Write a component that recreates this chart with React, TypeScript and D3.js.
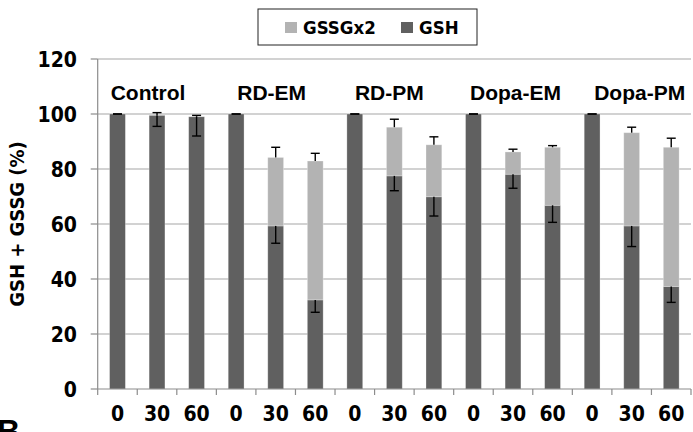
import React, { useEffect, useRef } from "react";
import * as d3 from "d3";

// groups and time points
const groups = ["Control", "RD-EM", "RD-PM", "Dopa-EM", "Dopa-PM"];
const times = ["0", "30", "60"];

// values per bar (group x time), in %
const gsh = [100, 99.5, 99, 100, 59.3, 32.4, 100, 77.5, 69.9, 100, 78.1, 66.8, 100, 59.3, 37.3];
const gssg = [0, 0, 0, 0, 24.9, 50.5, 0, 17.7, 18.9, 0, 8.1, 21.1, 0, 33.9, 50.6];
// GSH error drawn downward, GSSG error drawn upward
const gshErr = [0, 4, 7, 0, 6.3, 4.5, 0, 5.4, 7, 0, 5.1, 6.2, 0, 7.5, 5.8];
const gssgErr = [0, 1, 0.5, 0, 3.7, 2.8, 0, 2.9, 2.9, 0, 1, 0.6, 0, 2, 3.3];

const yTicks = [0, 20, 40, 60, 80, 100, 120];
const seriesNames = ["GSSGx2", "GSH"];

// small horizontal shifts of the group titles (px)
const labelNudge = [-9, -4, -5, 2.5, 8];

const App = () => {
  const ref = useRef(null);

  useEffect(() => {
    const svg = d3.select(ref.current);
    svg.selectAll("*").remove();

    const width = 693;
    const height = 432;
    const left = 97.7;
    const right = 691;
    const top = 59;
    const bottom = 389;

    const condFont = "'DejaVu Sans Condensed', 'DejaVu Sans', sans-serif";
    const narrowFont = "'Liberation Sans Narrow', 'DejaVu Sans Condensed', sans-serif";
    const arial = "'Liberation Sans', Arial, sans-serif";
    const dark = "#606060";
    const light = "#b3b3b3";

    const cats = groups.flatMap((g) => times.map((t) => `${g}|${t}`));

    const x = d3.scaleBand().domain(cats).range([left, right]).padding(0);
    const y = d3.scaleLinear().domain([0, 120]).range([bottom, top]);
    const bw = x.bandwidth() * 0.4;

    svg.attr("width", width).attr("height", height);

    // gridlines
    svg
      .append("g")
      .selectAll("line")
      .data(yTicks.filter((d) => d > 0))
      .join("line")
      .attr("x1", left)
      .attr("x2", right)
      .attr("y1", (d) => y(d))
      .attr("y2", (d) => y(d))
      .attr("stroke", "#a6a6a6")
      .attr("stroke-width", 1.2);

    // y axis
    svg
      .append("line")
      .attr("x1", left)
      .attr("x2", left)
      .attr("y1", top)
      .attr("y2", bottom)
      .attr("stroke", "#8c8c8c")
      .attr("stroke-width", 1.2);
    svg
      .append("g")
      .selectAll("line")
      .data(yTicks)
      .join("line")
      .attr("x1", left - 7)
      .attr("x2", left)
      .attr("y1", (d) => y(d))
      .attr("y2", (d) => y(d))
      .attr("stroke", "#8c8c8c")
      .attr("stroke-width", 1.2);
    svg
      .append("g")
      .selectAll("text")
      .data(yTicks)
      .join("text")
      .attr("x", 77)
      .attr("y", (d) => y(d))
      .attr("dy", "0.36em")
      .attr("text-anchor", "end")
      .style("font-family", narrowFont)
      .style("font-weight", "bold")
      .style("font-size", "21px")
      .text((d) => d);

    // bars
    const barG = svg.append("g");
    cats.forEach((c, i) => {
      const bx = x(c) + (x.bandwidth() - bw) / 2;
      barG
        .append("rect")
        .attr("x", bx)
        .attr("width", bw)
        .attr("y", y(gsh[i]))
        .attr("height", y(0) - y(gsh[i]))
        .attr("fill", dark)
        .attr("stroke", "rgba(255,255,255,0.35)")
        .attr("stroke-width", 0.8);
      if (gssg[i] > 0) {
        barG
          .append("rect")
          .attr("x", bx)
          .attr("width", bw)
          .attr("y", y(gsh[i] + gssg[i]))
          .attr("height", y(gsh[i]) - y(gsh[i] + gssg[i]))
          .attr("fill", light)
          .attr("stroke", "rgba(255,255,255,0.35)")
          .attr("stroke-width", 0.8);
      }
    });

    // x axis
    svg
      .append("line")
      .attr("x1", left)
      .attr("x2", right)
      .attr("y1", bottom)
      .attr("y2", bottom)
      .attr("stroke", "#8c8c8c")
      .attr("stroke-width", 1.2);
    svg
      .append("g")
      .selectAll("line")
      .data([...cats.map((c) => x(c)), right])
      .join("line")
      .attr("x1", (d) => d)
      .attr("x2", (d) => d)
      .attr("y1", bottom)
      .attr("y2", bottom + 6)
      .attr("stroke", "#8c8c8c")
      .attr("stroke-width", 1.2);
    svg
      .append("g")
      .selectAll("text")
      .data(cats)
      .join("text")
      .attr("x", (d) => x(d) + x.bandwidth() / 2)
      .attr("y", 413)
      .attr("dy", "0.36em")
      .attr("text-anchor", "middle")
      .style("font-family", narrowFont)
      .style("font-weight", "bold")
      .style("font-size", "21px")
      .text((d) => d.split("|")[1]);

    // error bars
    const errG = svg.append("g").attr("stroke", "#000").attr("stroke-width", 1.4);
    const cap = 4.5;
    cats.forEach((c, i) => {
      const cx = x(c) + x.bandwidth() / 2;
      const v1 = gsh[i];
      const lo = y(v1 - gshErr[i]);
      errG.append("line").attr("x1", cx).attr("x2", cx).attr("y1", y(v1)).attr("y2", lo);
      errG.append("line").attr("x1", cx - cap).attr("x2", cx + cap).attr("y1", lo).attr("y2", lo);
      const tot = gsh[i] + gssg[i];
      const hi = y(tot + gssgErr[i]);
      errG.append("line").attr("x1", cx).attr("x2", cx).attr("y1", y(tot)).attr("y2", hi);
      errG.append("line").attr("x1", cx - cap).attr("x2", cx + cap).attr("y1", hi).attr("y2", hi);
    });

    // group titles
    svg
      .append("g")
      .selectAll("text")
      .data(groups)
      .join("text")
      .attr("x", (d, i) => {
        const first = x(`${d}|${times[0]}`);
        return first + (x.bandwidth() * times.length) / 2 + labelNudge[i];
      })
      .attr("y", 100)
      .attr("text-anchor", "middle")
      .style("font-family", arial)
      .style("font-weight", "bold")
      .style("font-size", "21px")
      .text((d) => d);

    // y axis title
    svg
      .append("text")
      .attr("transform", "translate(17, 224) rotate(-90)")
      .attr("text-anchor", "middle")
      .attr("dy", "0.36em")
      .style("font-family", condFont)
      .style("font-weight", "bold")
      .style("font-size", "20px")
      .text("GSH + GSSG (%)");

    // legend
    const lg = svg.append("g");
    lg.append("rect")
      .attr("x", 258)
      .attr("y", 9)
      .attr("width", 219)
      .attr("height", 36)
      .attr("fill", "#fff")
      .attr("stroke", "#222")
      .attr("stroke-width", 1);
    const legendX = [285, 401];
    seriesNames.forEach((s, i) => {
      lg.append("rect")
        .attr("x", legendX[i])
        .attr("y", 22)
        .attr("width", 12)
        .attr("height", 11)
        .attr("fill", i === 0 ? light : dark);
      lg.append("text")
        .attr("x", legendX[i] + 18)
        .attr("y", 27.5)
        .attr("dy", "0.36em")
        .style("font-family", condFont)
        .style("font-weight", "bold")
        .style("font-size", "18.5px")
        .text(s);
    });

    // panel letter, cut off at the bottom edge as in the source figure
    svg
      .append("text")
      .attr("x", -3)
      .attr("y", 442)
      .style("font-family", arial)
      .style("font-weight", "bold")
      .style("font-size", "32px")
      .text("B");
  }, []);

  return (
    <svg
      ref={ref}
      style={{ position: "absolute", left: 0, top: 0, background: "#fff" }}
    ></svg>
  );
};

export default App;
